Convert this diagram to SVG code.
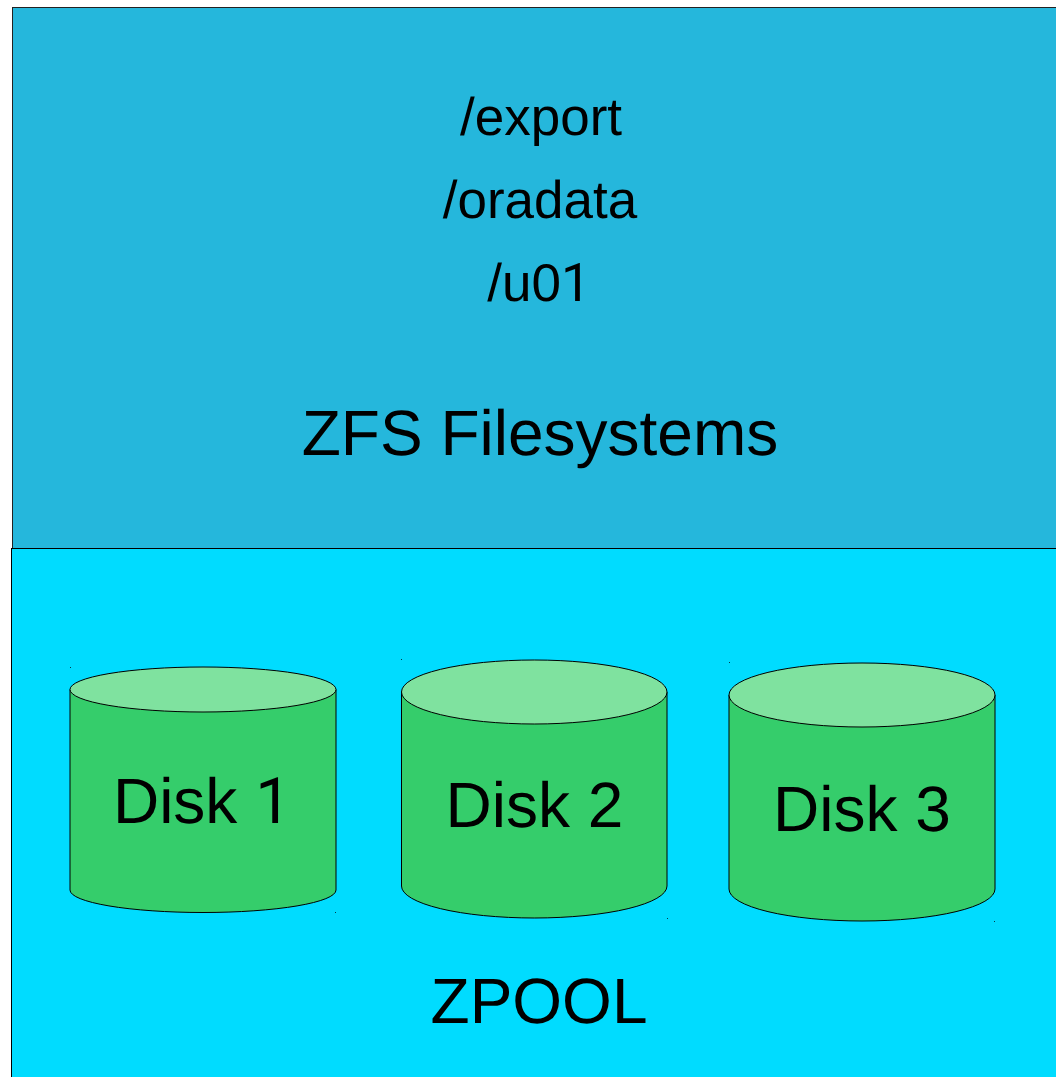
<svg xmlns="http://www.w3.org/2000/svg" width="1056" height="1077" viewBox="0 0 1056 1077">
<style>
text{font-family:"Liberation Sans",Arial,sans-serif;fill:#000;text-anchor:middle;text-rendering:geometricPrecision}
.big{font-size:64px}
.mid{font-size:53px}
.one{font-family:Roboto,Arial,sans-serif}
.body{fill:#35cd6b;stroke:#000;stroke-width:1}
.top{fill:#7fe29f;stroke:#000;stroke-width:1}
.dot{fill:#003a4a}
</style>
<rect width="1056" height="1077" fill="#fff"/>
<g id="zfs">
<rect x="12.500" y="7.500" width="1050" height="541" fill="#25b7dc" stroke="#222" stroke-width="1"/>
<text class="mid" x="541" y="135">/export</text>
<text class="mid" x="540" y="218">/oradata</text>
<text class="mid" x="539" y="301">/u0<tspan class="one">1</tspan></text>
<text class="big" x="540" y="455">ZFS Filesystems</text>
</g>
<g id="zpool">
<rect x="11.500" y="548.500" width="1050" height="535" fill="#00dcff" stroke="#000" stroke-width="1"/>
<text class="big" x="539" y="1023">ZPOOL</text>
</g>
<g id="disk1">
<path class="body" d="M70 689.500V890A133 22.500 0 0 0 336 890V689.500Z"/>
<ellipse class="top" cx="203" cy="689.500" rx="133" ry="22.500"/>
<rect class="dot" x="70" y="667" width="1" height="1"/>
<rect class="dot" x="335" y="912" width="1" height="1"/>
<text class="big" x="202" y="823">Disk <tspan class="one">1</tspan></text>
</g>
<g id="disk2">
<path class="body" d="M401.500 692V886A132.750 32 0 0 0 667 886V692Z"/>
<ellipse class="top" cx="534.250" cy="692" rx="132.750" ry="32"/>
<rect class="dot" x="401" y="659" width="1" height="1"/>
<rect class="dot" x="667" y="918" width="1" height="1"/>
<text class="big" x="534.500" y="827">Disk 2</text>
</g>
<g id="disk3">
<path class="body" d="M729 695V889A133 32 0 0 0 995 889V695Z"/>
<ellipse class="top" cx="862" cy="695" rx="133" ry="32"/>
<rect class="dot" x="729" y="662" width="1" height="1"/>
<rect class="dot" x="994" y="921" width="1" height="1"/>
<text class="big" x="862" y="831">Disk 3</text>
</g>
<g id="connectors"/>
</svg>
